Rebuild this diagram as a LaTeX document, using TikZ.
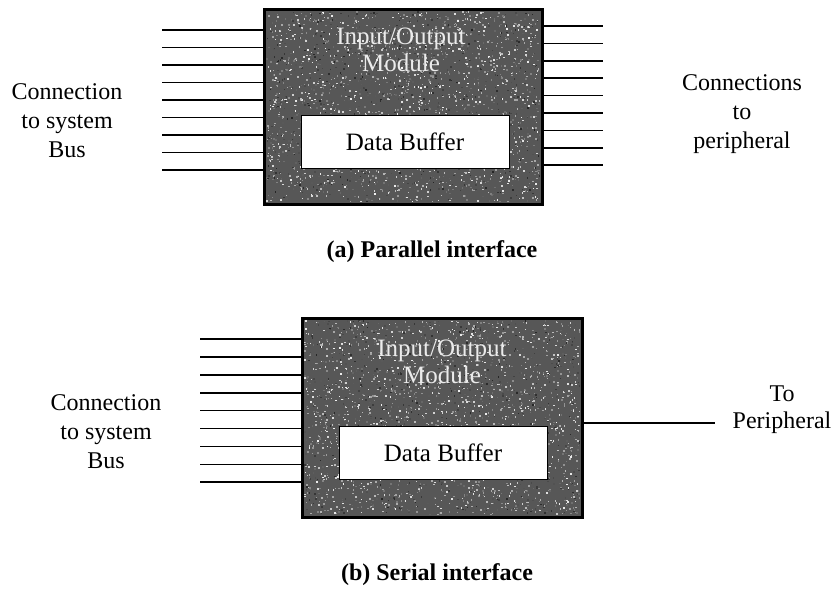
\documentclass[tikz,border=0pt]{standalone}
\usepackage{fontspec}
\setmainfont{LiberationSerif}[Extension=.ttf,UprightFont=*-Regular,BoldFont=*-Bold,ItalicFont=*-Italic,BoldItalicFont=*-BoldItalic]
\begin{document}
\begin{tikzpicture}[x=1pt,y=-1pt,
  module/.style={draw=black,line width=1.8pt,fill=black!66,minimum width=#1,inner sep=0pt},
  buffer/.style={draw=black,line width=0.9pt,fill=white,minimum width=208pt,minimum height=53pt,
    inner sep=0pt,font=\fontsize{25}{27}\selectfont},
  wire/.style={line width=1.6pt},
  label/.style={align=center,inner sep=0pt,font=\fontsize{24}{29}\selectfont},
  iotext/.style={align=center,inner sep=0pt,text=black!8,font=\fontsize{25}{27}\selectfont},
  caption/.style={inner sep=0pt,font=\bfseries\fontsize{24}{26}\selectfont}]
\useasboundingbox (0,0) rectangle (833,589);
\pgfmathsetseed{11}
% grainy grey speckle over a module body
\newcommand\boxspeckles[4]{%
  \foreach \k in {1,...,2600}{%
    \pgfmathsetmacro\px{#1+(#3-2)*rnd}%
    \pgfmathsetmacro\py{#2+(#4-2)*rnd}%
    \pgfmathsetmacro\sh{round(15+80*rnd)}%
    \fill[white!\sh!black] (\px,\py) rectangle ++(1.5,1.5);
  }}

% ---------- (a) parallel interface ----------
\node[module=277pt,minimum height=194pt] (boxa) at (403.5,107) {};
\boxspeckles{266}{11}{275}{192}
\draw[line width=1.8pt] (boxa.north west) rectangle (boxa.south east);
\node[iotext] (ioa) at (401,50) {Input/Output\\Module};
\node[buffer] (bufa) at (405,141.5) {Data Buffer};
\foreach \k in {0,...,8}{
  \coordinate (la\k) at (162,{30+17.5*\k});
  \draw[wire] (la\k) -- (la\k -| boxa.west);
  \coordinate (ra\k) at (603,{26+17.4*\k});
  \draw[wire] (ra\k -| boxa.east) -- (ra\k);
}
\node[label] (sysa) at (67,121) {Connection\\to system\\Bus};
\node[label] (pera) at (742,114) {Connections\\to\\peripheral};
\node[caption] (capa) at (432,252) {(a) Parallel interface};

% ---------- (b) serial interface ----------
\node[module=279pt,minimum height=198pt] (boxb) at (442.5,418) {};
\boxspeckles{304}{320}{277}{196}
\draw[line width=1.8pt] (boxb.north west) rectangle (boxb.south east);
\node[iotext] (iob) at (442,362) {Input/Output\\Module};
\node[buffer] (bufb) at (443,453) {Data Buffer};
\foreach \k in {0,...,8}{
  \coordinate (lb\k) at (200,{339+17.9*\k});
  \draw[wire] (lb\k) -- (lb\k -| boxb.west);
}
\coordinate (rb) at (715,423);
\draw[wire] (rb -| boxb.east) -- (rb);
\node[label] (sysb) at (106,432) {Connection\\to system\\Bus};
\node[label,font=\fontsize{24}{27}\selectfont] (perb) at (782,410) {To\\Peripheral};
\node[caption] (capb) at (437,575) {(b) Serial interface};
\end{tikzpicture}
\end{document}
